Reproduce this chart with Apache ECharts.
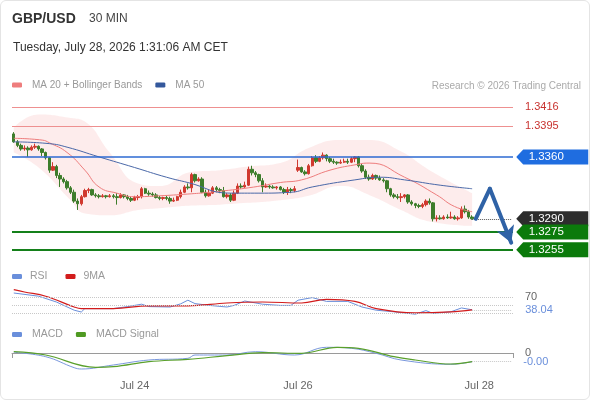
<!DOCTYPE html>
<html>
<head>
<meta charset="utf-8">
<script src="https://cdn.jsdelivr.net/npm/echarts@6/dist/echarts.min.js"></script>
<style>
html,body{margin:0;padding:0;background:#fff;}
#chart{position:absolute;left:0;top:0;width:590px;height:400px;}
#frame{position:absolute;left:0;top:0;width:590px;height:400px;box-sizing:border-box;border:1px solid #e4e4e4;border-radius:6px;pointer-events:none;}
</style>
</head>
<body>
<div id="chart"></div>
<div id="frame"></div>
<script>
// ---------- data ----------
const slotCount = 141;                       // category slots (candles + projection room)
const tickIndex = [34, 80, 131];
const tickLabels = ['Jul 24', 'Jul 26', 'Jul 28'];

// [open, close, low, high]
const candles = [
[1.3386,1.3377,1.3376,1.3388],[1.3377,1.3373,1.3371,1.3379],[1.3373,1.3369,1.3367,1.3375],[1.3369,1.3370,1.3367,1.3373],
[1.3370,1.3368,1.3360,1.3372],[1.3368,1.3371,1.3367,1.3373],[1.3371,1.3372,1.3369,1.3375],[1.3372,1.3369,1.3367,1.3373],
[1.3369,1.3365,1.3361,1.3370],[1.3365,1.3359,1.3357,1.3366],[1.3359,1.3345,1.3342,1.3360],[1.3345,1.3349,1.3344,1.3354],
[1.3349,1.3339,1.3336,1.3351],[1.3339,1.3335,1.3326,1.3342],[1.3335,1.3332,1.3330,1.3337],[1.3332,1.3325,1.3323,1.3334],
[1.3325,1.3320,1.3318,1.3327],[1.3320,1.3310,1.3308,1.3323],[1.3310,1.3307,1.3300,1.3313],[1.3307,1.3315,1.3305,1.3317],
[1.3315,1.3322,1.3314,1.3324],[1.3322,1.3323,1.3319,1.3325],[1.3323,1.3317,1.3316,1.3324],[1.3317,1.3316,1.3314,1.3319],
[1.3316,1.3315,1.3313,1.3318],[1.3315,1.3316,1.3314,1.3318],[1.3316,1.3315,1.3313,1.3317],[1.3315,1.3316,1.3314,1.3318],
[1.3316,1.3315,1.3313,1.3318],[1.3315,1.3314,1.3306,1.3319],[1.3314,1.3317,1.3313,1.3319],[1.3317,1.3315,1.3313,1.3318],
[1.3315,1.3313,1.3311,1.3317],[1.3313,1.3311,1.3309,1.3315],[1.3311,1.3314,1.3310,1.3316],[1.3314,1.3315,1.3311,1.3317],
[1.3315,1.3324,1.3313,1.3326],[1.3324,1.3319,1.3318,1.3325],[1.3319,1.3318,1.3316,1.3322],[1.3318,1.3317,1.3315,1.3320],
[1.3317,1.3314,1.3313,1.3319],[1.3314,1.3313,1.3311,1.3316],[1.3313,1.3314,1.3311,1.3315],[1.3314,1.3313,1.3311,1.3316],
[1.3313,1.3310,1.3307,1.3315],[1.3310,1.3311,1.3309,1.3314],[1.3311,1.3315,1.3310,1.3316],[1.3315,1.3320,1.3313,1.3323],
[1.3320,1.3326,1.3319,1.3328],[1.3326,1.3325,1.3323,1.3330],[1.3325,1.3340,1.3320,1.3342],[1.3340,1.3333,1.3331,1.3341],
[1.3333,1.3335,1.3332,1.3337],[1.3335,1.3320,1.3319,1.3337],[1.3320,1.3316,1.3314,1.3323],[1.3316,1.3319,1.3315,1.3323],
[1.3319,1.3325,1.3318,1.3327],[1.3325,1.3323,1.3320,1.3327],[1.3323,1.3322,1.3319,1.3325],[1.3322,1.3315,1.3314,1.3326],
[1.3315,1.3317,1.3313,1.3319],[1.3317,1.3311,1.3309,1.3319],[1.3311,1.3319,1.3310,1.3322],[1.3319,1.3327,1.3318,1.3330],
[1.3327,1.3326,1.3324,1.3330],[1.3326,1.3328,1.3325,1.3332],[1.3328,1.3346,1.3327,1.3349],[1.3346,1.3342,1.3339,1.3350],
[1.3342,1.3340,1.3337,1.3344],[1.3340,1.3333,1.3331,1.3341],[1.3333,1.3326,1.3320,1.3336],[1.3326,1.3327,1.3325,1.3330],
[1.3327,1.3326,1.3324,1.3328],[1.3326,1.3325,1.3324,1.3328],[1.3325,1.3326,1.3323,1.3327],[1.3326,1.3323,1.3322,1.3327],
[1.3323,1.3320,1.3318,1.3325],[1.3320,1.3323,1.3317,1.3326],[1.3323,1.3322,1.3319,1.3325],[1.3322,1.3324,1.3320,1.3327],
[1.3345,1.3348,1.3343,1.3357],[1.3348,1.3343,1.3342,1.3349],[1.3343,1.3341,1.3339,1.3345],[1.3341,1.3350,1.3340,1.3352],
[1.3350,1.3359,1.3349,1.3361],[1.3359,1.3355,1.3353,1.3362],[1.3355,1.3359,1.3354,1.3361],[1.3359,1.3362,1.3357,1.3365],
[1.3362,1.3358,1.3355,1.3363],[1.3358,1.3355,1.3353,1.3360],[1.3355,1.3354,1.3352,1.3358],[1.3354,1.3353,1.3351,1.3355],
[1.3353,1.3354,1.3352,1.3357],[1.3354,1.3355,1.3353,1.3358],[1.3355,1.3354,1.3352,1.3358],[1.3354,1.3358,1.3353,1.3360],
[1.3358,1.3360,1.3354,1.3361],[1.3360,1.3350,1.3348,1.3361],[1.3350,1.3344,1.3342,1.3352],[1.3344,1.3337,1.3335,1.3346],
[1.3337,1.3335,1.3333,1.3340],[1.3335,1.3339,1.3334,1.3341],[1.3339,1.3336,1.3334,1.3340],[1.3336,1.3334,1.3333,1.3339],
[1.3334,1.3333,1.3331,1.3336],[1.3333,1.3324,1.3320,1.3334],[1.3324,1.3317,1.3315,1.3325],[1.3317,1.3315,1.3313,1.3319],
[1.3315,1.3314,1.3312,1.3318],[1.3314,1.3315,1.3309,1.3319],[1.3315,1.3317,1.3313,1.3318],[1.3317,1.3309,1.3307,1.3318],
[1.3309,1.3307,1.3305,1.3311],[1.3307,1.3305,1.3302,1.3308],[1.3305,1.3304,1.3302,1.3307],[1.3304,1.3306,1.3302,1.3308],
[1.3306,1.3310,1.3304,1.3312],[1.3310,1.3308,1.3306,1.3313],[1.3308,1.3290,1.3287,1.3309],[1.3290,1.3291,1.3287,1.3294],
[1.3291,1.3290,1.3289,1.3294],[1.3290,1.3292,1.3289,1.3294],[1.3292,1.3291,1.3290,1.3295],[1.3291,1.3292,1.3290,1.3298],
[1.3292,1.3290,1.3289,1.3294],[1.3290,1.3291,1.3288,1.3293],[1.3291,1.3301,1.3290,1.3304],[1.3301,1.3298,1.3296,1.3305],
[1.3298,1.3292,1.3290,1.3300],[1.3292,1.3290,1.3289,1.3294]
];

const ma20 = [[0,1.3381],[8,1.3379],[10,1.3376],[15,1.3365],[20,1.3345],[24,1.3326],[29,1.3319],[34,1.3315],[41,1.3316],[49,1.3318],[55,1.3320],[66,1.3325],[75,1.3331],[81,1.3334],[89,1.3345],[96,1.3351],[100,1.3353],[110,1.3337],[119,1.3317],[124,1.3304],[129,1.3298]];
const ma50 = [[0,1.3377],[10,1.3375],[15,1.3371],[24,1.3360],[34,1.3348],[43,1.3337],[49,1.3331],[61,1.3319],[69,1.3319],[78,1.3320],[84,1.3326],[96,1.3334],[103,1.3337],[110,1.3334],[120,1.3328],[129,1.3324]];

const bbIndex = [0,7,16,20,27,35,41,50,58,66,75,83,92,100,109,117,129];
const bbUpper = [1.3393,1.3408,1.3404,1.3400,1.3365,1.3330,1.3327,1.3343,1.3345,1.3349,1.3353,1.3370,1.3379,1.3379,1.3366,1.3345,1.3319];
const bbLower = [1.3365,1.3348,1.3311,1.3296,1.3294,1.3300,1.3302,1.3305,1.3306,1.3308,1.3311,1.3316,1.3327,1.3317,1.3300,1.3287,1.3282];

const resistanceLevels = [1.3416, 1.3395];
const pivotLevel = 1.3360;
const lastPrice = 1.3290;
const supportLevels = [1.3275, 1.3255];
const projIndex = [130, 134, 140];
const projPrice = [1.3290, 1.3324, 1.3263];

const rsi = [[0,80],[7,72],[12,57.5],[17,37],[19,32.5],[20,41],[28,41],[32,46],[36,52],[38,46],[44,45],[47,53],[49,62],[51,53.5],[55,49],[60,45],[62,49],[65,60],[70,52],[75,49],[78,49],[80,62],[84,68.5],[88,59],[94,59],[98,45],[102,37],[107,33],[113,27],[116,36],[118,29],[123,33],[126,42.6],[129,38.04]];
const rsiMA = [[0,88.5],[3,82.5],[9,72],[17,45],[19,41],[28,41],[38,48],[49,48],[60,55],[70,57.5],[81,55],[88,64],[96,59],[102,41],[113,30.5],[123,33],[129,38]];
const rsiLevels = [70, 50, 30];
const rsiLast = 38.04;

const macd = [[0,0.00007],[9,-0.00037],[17,-0.00147],[19,-0.0016],[28,-0.0012],[38,-0.0007],[49,-0.00053],[51,-0.0002],[60,-0.0002],[68,0.00013],[79,-0.0002],[88,0.00057],[95,0.00047],[102,-0.00003],[109,-0.0007],[123,-0.00113],[129,-0.00087]];
const macdSignal = [[0,0.00013],[9,-0.0002],[23,-0.00143],[28,-0.00137],[38,-0.00087],[49,-0.00063],[60,-0.00027],[70,0.00003],[81,-0.00003],[91,0.00057],[97,0.00047],[107,-0.00037],[113,-0.0007],[123,-0.0011],[129,-0.00087]];
const macdLast = -0.00087;

// ---------- chart ----------
const FONT = "'Liberation Sans', Arial, sans-serif";
const cats = Array.from({length: slotCount}, (_, i) => String(i));
const lastIdx = candles.length - 1;
const endIdx = slotCount - 1;
const bbBase = bbIndex.map((x, k) => [x, bbLower[k]]);
const bbSpan = bbIndex.map((x, k) => [x, +(bbUpper[k] - bbLower[k]).toFixed(5)]);

const tagPath = 'path://M0,7.5 L7,0 L72,0 L72,15 L7,15 Z';
function tag(price, color) {
  return { coord: [endIdx, price], itemStyle: { color: color }, label: { formatter: price.toFixed(4) } };
}

const chart = echarts.init(document.getElementById('chart'), null, { renderer: 'canvas' });
const option = {
  animation: false,
  backgroundColor: '#fff',
  textStyle: { fontFamily: FONT },
  title: [
    { text: 'GBP/USD', left: 12, top: 12, padding: 0, textStyle: { fontFamily: FONT, fontSize: 14, fontWeight: 'bold', color: '#333' } },
    { text: '30 MIN', left: 89, top: 13, padding: 0, textStyle: { fontFamily: FONT, fontSize: 12, fontWeight: 'normal', color: '#444' } },
    { text: 'Tuesday, July 28, 2026 1:31:06 AM CET', left: 13, top: 42, padding: 0, textStyle: { fontFamily: FONT, fontSize: 12, fontWeight: 'normal', color: '#333' } },
    { text: 'Research © 2026 Trading Central', right: 9, top: 81, padding: 0, textStyle: { fontFamily: FONT, fontSize: 10, fontWeight: 'normal', color: '#aaa' } }
  ],
  legend: [
    { data: ['MA 20 + Bollinger Bands', 'MA 50'], left: 12, top: 80, padding: 0, itemWidth: 10, itemHeight: 5, itemGap: 13, icon: 'roundRect', selectedMode: false,
      textStyle: { fontFamily: FONT, color: '#999', fontSize: 10, padding: [0, 0, 0, 5] } },
    { data: ['RSI', '9MA'], left: 12, top: 271, padding: 0, itemWidth: 10, itemHeight: 5, itemGap: 18, icon: 'roundRect', selectedMode: false,
      textStyle: { fontFamily: FONT, color: '#999', fontSize: 10.5, padding: [0, 0, 0, 3] } },
    { data: ['MACD', 'MACD Signal'], left: 12, top: 329, padding: 0, itemWidth: 10, itemHeight: 5, itemGap: 13, icon: 'roundRect', selectedMode: false,
      textStyle: { fontFamily: FONT, color: '#999', fontSize: 10.5, padding: [0, 0, 0, 5] } }
  ],
  grid: [
    { left: 12, right: 77, top: 95, height: 168 },
    { left: 12, right: 77, top: 285, height: 36 },
    { left: 12, right: 77, top: 340, height: 32 }
  ],
  xAxis: [
    { type: 'category', gridIndex: 0, data: cats, boundaryGap: true, show: false },
    { type: 'category', gridIndex: 1, data: cats, boundaryGap: true, show: false },
    { type: 'category', gridIndex: 2, data: cats, boundaryGap: true,
      axisLine: { show: true, lineStyle: { color: '#9a9a9a', width: 1 } },
      axisTick: { show: true, interval: (i) => i === 0, length: 5, lineStyle: { color: '#9a9a9a' } },
      axisLabel: { interval: (i) => tickIndex.indexOf(i) >= 0, formatter: (v, i) => tickLabels[tickIndex.indexOf(Number(v))] || '', color: '#666', fontSize: 11, fontFamily: FONT },
      splitLine: { show: false } }
  ],
  yAxis: [
    { type: 'value', gridIndex: 0, min: 1.3240, max: 1.3430, show: false },
    { type: 'value', gridIndex: 1, min: 10, max: 100, show: false },
    { type: 'value', gridIndex: 2, min: -0.0019, max: 0.0013, show: false }
  ],
  series: [
    { name: 'BB lower', type: 'line', xAxisIndex: 0, yAxisIndex: 0, stack: 'bb', data: bbBase, smooth: 0.5, symbol: 'none', silent: true,
      lineStyle: { opacity: 0 }, z: 1 },
    { name: 'BB span', type: 'line', xAxisIndex: 0, yAxisIndex: 0, stack: 'bb', data: bbSpan, smooth: 0.5, symbol: 'none', silent: true,
      lineStyle: { opacity: 0 }, areaStyle: { color: 'rgba(240,120,120,0.2)' }, z: 1 },
    { name: 'Levels', type: 'line', xAxisIndex: 0, yAxisIndex: 0, data: [[0, lastPrice]], symbol: 'none', silent: true,
      lineStyle: { width: 0, color: 'transparent' }, z: 2,
      markLine: {
        silent: true, symbol: ['none', 'none'], animation: false, precision: 6,
        data: [
          ...resistanceLevels.map(v => ({ yAxis: v, lineStyle: { color: '#ee9090', width: 1, type: 'solid' },
            label: { show: true, position: 'end', distance: 12, formatter: v.toFixed(4), color: '#c8322f', fontSize: 11, fontFamily: FONT } })),
          { yAxis: pivotLevel, lineStyle: { color: '#2d6ad2', width: 1.5, type: 'solid' }, label: { show: false } },
          ...supportLevels.map(v => ({ yAxis: v, lineStyle: { color: '#14801a', width: 2, type: 'solid' }, label: { show: false } })),
          [ { coord: [lastIdx, lastPrice] }, { coord: [endIdx, lastPrice], lineStyle: { color: '#555', width: 1, type: 'dotted' }, label: { show: false } } ]
        ]
      },
      markPoint: {
        silent: true, symbol: tagPath, symbolSize: [72, 15], symbolOffset: [41, 0], symbolKeepAspect: false,
        label: { show: true, position: 'inside', color: '#fff', fontSize: 11.5, fontFamily: FONT, offset: [-6, 0] },
        data: [ tag(pivotLevel, '#1f6de0'), tag(lastPrice, '#2d2d2d'), tag(supportLevels[0], '#0b7a0b'), tag(supportLevels[1], '#0b7a0b') ]
      }
    },
    { name: 'Price', type: 'candlestick', xAxisIndex: 0, yAxisIndex: 0, data: candles, barWidth: '82%', z: 3,
      itemStyle: { color: '#d0392f', color0: '#3d7d2b', borderColor: '#d0392f', borderColor0: '#3d7d2b', borderWidth: 1 } },
    { name: 'MA 20 + Bollinger Bands', type: 'line', xAxisIndex: 0, yAxisIndex: 0, data: ma20, smooth: 0.5, symbol: 'none',
      color: '#ee7d7d', lineStyle: { color: '#ee7d7d', width: 1 }, z: 4 },
    { name: 'MA 50', type: 'line', xAxisIndex: 0, yAxisIndex: 0, data: ma50, smooth: 0.5, symbol: 'none',
      color: '#34589c', lineStyle: { color: '#4a68a8', width: 1 }, z: 4 },
    { name: 'Projection', type: 'line', xAxisIndex: 0, yAxisIndex: 0, data: [[projIndex[0], projPrice[0]], [projIndex[1], projPrice[1]]],
      symbol: 'none', silent: true, lineStyle: { color: '#2f62a6', width: 4, cap: 'round' }, z: 5,
      markLine: { silent: true, animation: false, precision: 6, symbol: ['none', 'arrow'], symbolSize: [14, 16],
        lineStyle: { color: '#2f62a6', width: 4, type: 'solid', cap: 'round' }, label: { show: false },
        data: [ [ { coord: [projIndex[1], projPrice[1]] }, { coord: [projIndex[2], projPrice[2]] } ] ] } },
    { name: 'RSI', type: 'line', xAxisIndex: 1, yAxisIndex: 1, data: rsi, symbol: 'none', color: '#6a8fdb',
      lineStyle: { color: '#6a8fdb', width: 1 },
      markLine: { silent: true, symbol: ['none', 'none'], animation: false, precision: 4,
        data: [
          ...rsiLevels.map(v => ({ yAxis: v, lineStyle: { color: '#c8c8c8', width: 1, type: 'dotted' },
            label: { show: v === 70, position: 'end', distance: 12, formatter: String(v), color: '#666', fontSize: 11, fontFamily: FONT } })),
          [ { coord: [lastIdx, rsiLast] }, { coord: [endIdx, rsiLast], lineStyle: { color: '#c8c8c8', width: 1, type: 'dotted' },
            label: { show: true, position: 'end', distance: 14, formatter: rsiLast.toFixed(2), color: '#6a8fdb', fontSize: 11, fontFamily: FONT } } ]
        ] } },
    { name: '9MA', type: 'line', xAxisIndex: 1, yAxisIndex: 1, data: rsiMA, smooth: 0.4, symbol: 'none', color: '#d21c1c',
      lineStyle: { color: '#d21c1c', width: 1.2 } },
    { name: 'MACD', type: 'line', xAxisIndex: 2, yAxisIndex: 2, data: macd, smooth: 0.4, symbol: 'none', color: '#6a8fdb',
      lineStyle: { color: '#7a98dd', width: 1 },
      markLine: { silent: true, symbol: ['none', 'none'], animation: false, precision: 8,
        data: [
          { yAxis: 0, lineStyle: { color: 'rgba(0,0,0,0)', width: 1 }, label: { show: true, position: 'end', distance: 12, formatter: '0', color: '#666', fontSize: 11, fontFamily: FONT } },
          [ { coord: [lastIdx, macdLast] }, { coord: [endIdx, macdLast], lineStyle: { color: '#c8c8c8', width: 1, type: 'dotted' },
            label: { show: true, position: 'end', distance: 12, formatter: macdLast.toFixed(2), color: '#6a8fdb', fontSize: 11, fontFamily: FONT } } ]
        ] } },
    { name: 'MACD Signal', type: 'line', xAxisIndex: 2, yAxisIndex: 2, data: macdSignal, smooth: 0.4, symbol: 'none', color: '#4f9a22',
      lineStyle: { color: '#5aa02c', width: 1.2 } }
  ]
};
chart.setOption(option);
</script>
</body>
</html>
